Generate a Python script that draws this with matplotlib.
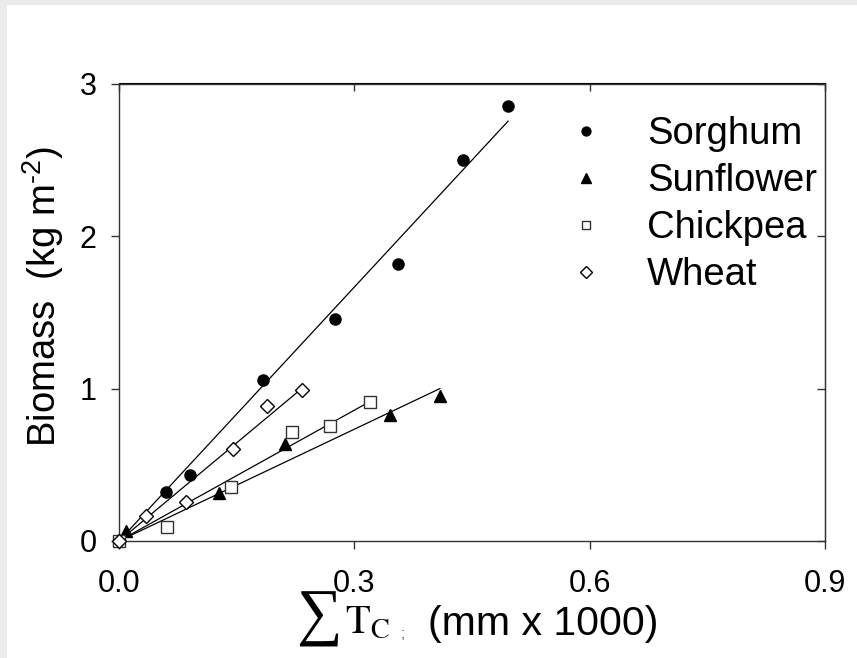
import numpy as np
import matplotlib
matplotlib.use("Agg")
import matplotlib.pyplot as plt
from matplotlib.patches import Rectangle

plt.rcParams["font.family"] = ["Liberation Sans", "DejaVu Sans"]
plt.rcParams["mathtext.fontset"] = "custom"
plt.rcParams["mathtext.rm"] = "Liberation Sans"
plt.rcParams["mathtext.it"] = "Liberation Sans:italic"

# values (sum Tc in mm x 1000, biomass in kg m-2)
sorghum_x = [0.0, 0.060, 0.091, 0.184, 0.275, 0.356, 0.438, 0.496]
sorghum_y = [0.0, 0.320, 0.435, 1.055, 1.453, 1.815, 2.497, 2.853]

sunflower_x = [0.009, 0.128, 0.212, 0.345, 0.409]
sunflower_y = [0.068, 0.317, 0.636, 0.826, 0.950]

chickpea_x = [0.0, 0.061, 0.143, 0.221, 0.269, 0.320]
chickpea_y = [0.0, 0.090, 0.356, 0.714, 0.756, 0.909]

wheat_x = [0.0, 0.035, 0.085, 0.145, 0.189, 0.233]
wheat_y = [0.0, 0.166, 0.253, 0.601, 0.887, 0.990]

x_ticks = [0.0, 0.3, 0.6, 0.9]
y_ticks = [0, 1, 2, 3]

W, H = 857, 658
fig = plt.figure(figsize=(W / 100, H / 100), dpi=100, facecolor="#ebebeb")
fig.patches.append(Rectangle((7 / W, 0), 1, 1 - 5 / H, transform=fig.transFigure,
                             facecolor="white", edgecolor="none", zorder=-10))
ax = fig.add_axes([119 / W, 1 - 541 / H, (825 - 119) / W, (541 - 83.5) / H])
ax.set_facecolor("white")

series = [
    ("Sorghum", sorghum_x, sorghum_y, dict(marker="o", ms=8, mfc="black", mec="black")),
    ("Sunflower", sunflower_x, sunflower_y, dict(marker="^", ms=9, mfc="black", mec="black")),
    ("Chickpea", chickpea_x, chickpea_y, dict(marker="s", ms=8, mfc="white", mec="#333333", mew=1)),
    ("Wheat", wheat_x, wheat_y, dict(marker="D", ms=7.5, mfc="white", mec="black", mew=1)),
]

for name, xs, ys, style in series:
    xs = np.array(xs)
    ys = np.array(ys)
    # regression forced through the origin
    slope = np.sum(xs * ys) / np.sum(xs * xs)
    ax.plot([0, xs.max()], [0, slope * xs.max()], color="black", lw=0.9, zorder=2)
    ax.plot(xs, ys, ls="none", label=name, clip_on=False, zorder=3, **style)

ax.set_xlim(0, 0.9)
ax.set_ylim(0, 3)
ax.set_xticks(x_ticks)
ax.set_xticklabels([f"{v:.1f}" for v in x_ticks])
ax.set_yticks(y_ticks)
ax.tick_params(axis="both", which="major", labelsize=22, length=6, width=1, color="#333333")
ax.tick_params(axis="x", direction="out", pad=14)
ax.tick_params(axis="y", direction="out", pad=10)
for s in ax.spines.values():
    s.set_color("#333333")
    s.set_linewidth(1)

# top and right ticks point inward
ax2 = ax.secondary_xaxis("top")
ax2.set_xticks(x_ticks)
ax2.tick_params(direction="in", length=6, width=1, color="#333333", labeltop=False)
ax3 = ax.secondary_yaxis("right")
ax3.set_yticks(y_ticks)
ax3.tick_params(direction="in", length=6, width=1, color="#333333", labelright=False)

fig.text(43 / W, 1 - 296 / H, "Biomass  (kg m$^{\\mathrm{\u20102}}$)", fontsize=27.5,
         rotation=90, ha="center", va="center")

ax.legend(loc="upper left", bbox_to_anchor=(0.634, 0.929), frameon=False,
          fontsize=27.5, handletextpad=1.1, labelspacing=0.29, markerscale=0.8,
          handlelength=1.0, borderaxespad=0, borderpad=0)

# x axis label built from pieces
fig.text(296 / W, 1 - 634 / H, "\u2211", fontsize=46,
         family=["Liberation Serif", "DejaVu Serif"], va="baseline", ha="left")
fig.text(345 / W, 1 - 633 / H, r"$\mathrm{T}_{\mathrm{C}}$", fontsize=29,
         math_fontfamily="stix", va="baseline", ha="left")
fig.text(401 / W, 1 - 638 / H, ";", fontsize=11, color="#555555",
         va="baseline", ha="left")
fig.text(428 / W, 1 - 635 / H, "(mm x 1000)", fontsize=29.5,
         va="baseline", ha="left")

fig.savefig("out.png", dpi=100, facecolor=fig.get_facecolor())
